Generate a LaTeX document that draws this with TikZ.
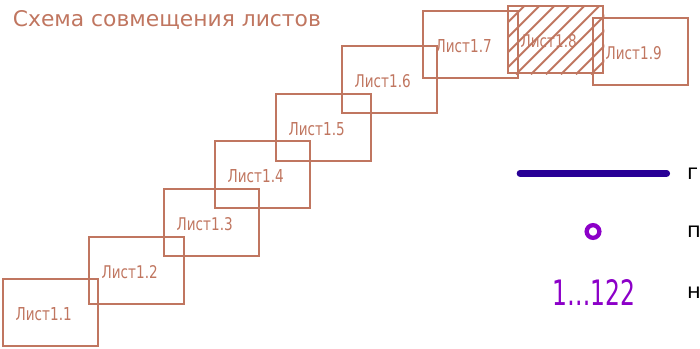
\documentclass[tikz,border=0pt]{standalone}
\usepackage{fontspec}
\usepackage{graphicx}
\usetikzlibrary{calc}
\setmainfont{DejaVu Sans}
\newfontfamily\gost{DejaVu Sans Condensed}
\definecolor{brn}{RGB}{192,118,96}
\definecolor{lgblue}{RGB}{40,0,150}
\definecolor{lgpurp}{RGB}{140,0,200}
\newcommand{\sheettext}[1]{\resizebox{56pt}{13pt}{\gost #1}}
\begin{document}
\begin{tikzpicture}[x=1pt,y=-1pt,
  sheet/.style={draw=brn,line width=2.3pt,rectangle,minimum width=95pt,minimum height=67pt,inner sep=0pt,anchor=north west},
  sheetlbl/.style={text=brn,anchor=base west,inner sep=0pt},
  hatchln/.style={draw=brn,line width=2pt},
  legendtxt/.style={anchor=base west,inner sep=0pt,font=\fontsize{21}{21}\selectfont}]
\useasboundingbox (0,0) rectangle (700,348);
\clip (0,0) rectangle (700,348);
\node[text=brn,anchor=base west,inner sep=0pt] (title) at (12.7,26.7) {\resizebox{308pt}{16pt}{\gost Схема совмещения листов}};
\node[sheet] (s1) at (2,278) {};
\node[sheet] (s2) at (88,236) {};
\node[sheet] (s3) at (163,188) {};
\node[sheet] (s4) at (214,140) {};
\node[sheet] (s5) at (275,93) {};
\node[sheet] (s6) at (341,45) {};
\node[sheet] (s7) at (422,10) {};
\node[sheet] (s8) at (507,5) {};
\node[sheet] (s9) at (592,17) {};
\begin{scope}
  \clip (s8.north west) rectangle (s8.south east);
  \foreach \k in {0,...,11} {
    \draw[hatchln] ($(s8.south west)+(\k*15-51,0)$) -- ++(90,-90);
  }
\end{scope}
\foreach \i in {1,...,9} {
  \node[sheetlbl] (l\i) at ($(s\i.west)+(13.5,7.5)$) {\sheettext{Лист1.\i}};
}
\coordinate (la) at (520,173.3);
\coordinate (lb) at (666.7,173.3);
\draw[lgblue,line width=6.7pt,line cap=round] (la) -- (lb);
\node[draw=lgpurp,line width=4.3pt,circle,minimum size=12.7pt,inner sep=0pt] (pt) at (593,231.5) {};
\node[text=lgpurp,anchor=base west,inner sep=0pt] (num) at (552,305.5) {\resizebox{83pt}{26pt}{\gost 1…122}};
\node[legendtxt] (tg) at (687,179) {г};
\node[legendtxt] (tp) at (687,237) {п};
\node[legendtxt] (tn) at (687,298) {н};
\end{tikzpicture}
\end{document}
